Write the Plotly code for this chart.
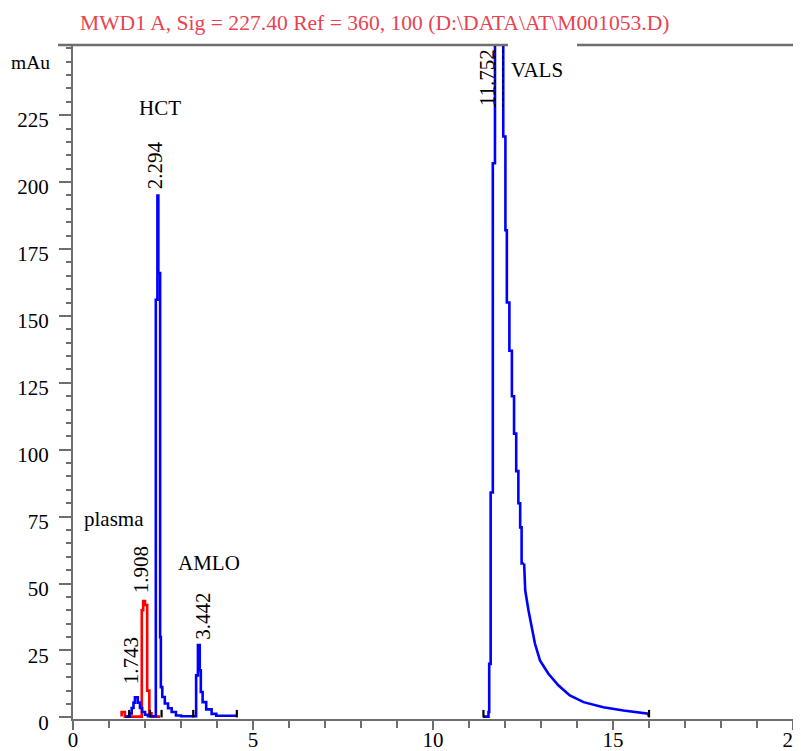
import plotly.graph_objects as go

# ---- data (retention time in min, signal in mAu) ----
# sample trace (blue), step-wise part: each point = (time of a vertical jump, level before it)
blue_t = [1.45, 1.58, 1.63, 1.68, 1.72, 1.80, 1.86, 1.92, 2.00, 2.08, 2.30, 2.345, 2.37, 2.42,
          2.44, 2.48, 2.55, 2.64, 2.74, 2.86, 3.00, 3.42, 3.47, 3.52, 3.55, 3.60, 3.70, 3.85,
          3.98, 4.55, None,
          11.39, 11.54, 11.56, 11.60, 11.66, 11.72, 11.95, 12.01, 12.05, 12.12, 12.19, 12.25,
          12.31, 12.37, 12.42, 12.46, 12.53]
blue_v = [0.3, 0.3, 1.5, 3.5, 5.5, 7.5, 5.5, 3.5, 2.0, 1.0, 0.4, 156, 195, 166,
          30, 11.3, 7.6, 5.2, 3.4, 2.0, 0.7, 0.4, 15.7, 27, 17.6, 9.5, 5.7, 3.0,
          1.3, 0.6, None,
          0.3, 0.3, 2, 20, 84, 207, 262, 217, 182, 155, 137, 120,
          106, 92, 80, 71, 57.5]
# VALS tail (smooth part)
tail_t = [12.53, 12.56, 12.65, 12.74, 12.83, 12.97, 13.20, 13.48, 13.80, 14.18, 14.73, 15.29, 15.98, 15.99]
tail_v = [57.5, 47.5, 40.0, 33.7, 27.6, 21.3, 16.4, 12.0, 8.2, 5.7, 3.8, 2.6, 1.4, 0.3]

# plasma trace (red)
red_t = [1.35, 1.44, 1.91, 1.95, 2.00, 2.06, 2.12, 2.18, 2.42]
red_v = [0.3, 2.0, 0.3, 40, 43.5, 42, 10, 1.5, 0.3]

# integration baseline event marks (black)
event_t = [1.56, 2.14, 2.46, 3.34, 4.55, 11.40, 16.0]
event_h = 2.8
# dotted apex markers over the off-scale VALS peak
apex_t = [11.72, 11.95]
apex_lo, apex_hi = 228, 251

# peak labels
peak_rt = ["1.743", "1.908", "2.294", "3.442", "11.752"]
peak_lab_t = [1.61, 1.89, 2.28, 3.61, 11.50]
peak_lab_v = [21.3, 55.0, 206.3, 38.0, 238.8]

names = ["HCT", "plasma", "AMLO", "VALS"]
name_t = [2.42, 1.14, 3.78, 12.89]
name_v = [227.6, 74.0, 57.5, 241.8]

title_text = "MWD1 A, Sig = 227.40 Ref = 360, 100 (D:\\DATA\\AT\\M001053.D)"

y_ticks = [0, 25, 50, 75, 100, 125, 150, 175, 200, 225]
x_ticks = [0, 5, 10, 15, 20]

FONT = "Liberation Serif"
FS = 21
AX = "#6e6e6e"

fig = go.Figure()

ev_x, ev_y = [], []
for t in event_t:
    ev_x += [t, t, None]
    ev_y += [0, event_h, None]
ap_x, ap_y = [], []
for t in apex_t:
    ap_x += [t, t, None]
    ap_y += [apex_lo, apex_hi, None]

fig.add_trace(go.Scatter(x=red_t, y=red_v, mode="lines", line=dict(color="#ff0000", width=2.6, shape="vh"),
                         hoverinfo="skip", showlegend=False))
fig.add_trace(go.Scatter(x=blue_t, y=blue_v, mode="lines", line=dict(color="#0000ff", width=2.6, shape="vh"),
                         connectgaps=False, hoverinfo="skip", showlegend=False))
fig.add_trace(go.Scatter(x=tail_t, y=tail_v, mode="lines", line=dict(color="#0000ff", width=2.6),
                         hoverinfo="skip", showlegend=False))
fig.add_trace(go.Scatter(x=ev_x, y=ev_y, mode="lines", line=dict(color="#000000", width=2.2),
                         connectgaps=False, hoverinfo="skip", showlegend=False))
fig.add_trace(go.Scatter(x=ap_x, y=ap_y, mode="lines", line=dict(color="#000000", width=1.5, dash="dot"),
                         connectgaps=False, hoverinfo="skip", showlegend=False))

for txt, t, v in zip(peak_rt, peak_lab_t, peak_lab_v):
    fig.add_annotation(x=t, y=v, text=txt, textangle=-90, showarrow=False,
                       xanchor="center", yanchor="middle", font=dict(family=FONT, size=FS, color="black"))
for txt, t, v in zip(names, name_t, name_v):
    fig.add_annotation(x=t, y=v, text=txt, showarrow=False,
                       xanchor="center", yanchor="middle", font=dict(family=FONT, size=FS, color="black"))

fig.add_annotation(xref="paper", x=0, xanchor="right", xshift=-21, y=244.8, yanchor="middle",
                   text="mAu", showarrow=False, font=dict(family=FONT, size=19.5, color="black"))

# top frame line (with the gap seen in the original)
fig.add_shape(type="line", xref="paper", yref="paper", x0=-15/728, x1=(508-73)/728, y0=1, y1=1,
              line=dict(color=AX, width=2.5))
fig.add_shape(type="line", xref="paper", yref="paper", x0=(577-73)/728, x1=1.0, y0=1, y1=1,
              line=dict(color=AX, width=2.5))

# page body has an 8px margin: figure is sized/placed to compensate
fig.update_layout(
    width=793, height=743,
    margin=dict(l=65, r=0, t=37, b=32, autoexpand=False),
    paper_bgcolor="white", plot_bgcolor="white",
    title=dict(text=title_text, xref="container", yref="container", x=72/793, xanchor="left",
               y=1-14/743, yanchor="middle", font=dict(family=FONT, size=21.6, color="#e8434f")),
    showlegend=False,
)
fig.update_xaxes(range=[0, 20.22], tickvals=x_ticks, ticktext=[str(v) for v in x_ticks],
                 automargin=False, ticklabeloverflow="allow",
                 showgrid=False, zeroline=False, showline=True, linecolor=AX, linewidth=2,
                 ticks="outside", ticklen=9, tickwidth=2, tickcolor=AX,
                 minor=dict(dtick=1, ticks="outside", ticklen=7, tickwidth=2, tickcolor=AX),
                 ticklabelstandoff=-8,
                 tickfont=dict(family=FONT, size=FS, color="black"))
fig.update_yaxes(range=[-0.6, 251.2], tickvals=y_ticks, ticktext=[str(v) for v in y_ticks],
                 automargin=False,
                 showgrid=False, zeroline=False, showline=True, linecolor=AX, linewidth=2,
                 ticks="outside", ticklen=12, tickwidth=2, tickcolor=AX,
                 minor=dict(dtick=5, ticks="outside", ticklen=5, tickwidth=2, tickcolor=AX),
                 ticklabelstandoff=6, ticklabelshift=5,
                 tickfont=dict(family=FONT, size=FS, color="black"))

fig.write_html("out.html")
